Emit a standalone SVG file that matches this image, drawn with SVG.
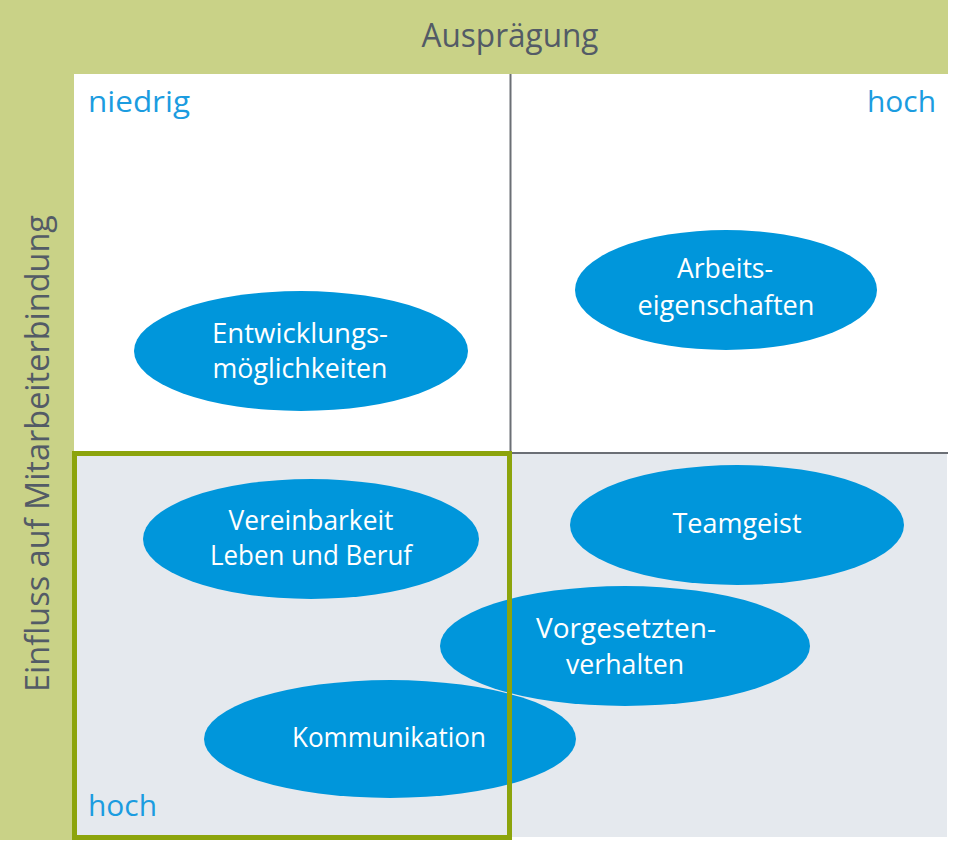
<svg xmlns="http://www.w3.org/2000/svg" width="960" height="850" viewBox="0 0 960 850">
<style>
.band{fill:#c9d287}
.ell{fill:#0096db}
.lbl{font-family:"Open Sans","Liberation Sans",sans-serif;font-size:27px;fill:#ffffff;text-anchor:middle}
.axis{font-family:"Open Sans","Liberation Sans",sans-serif;font-size:32px;fill:#535b66}
.tick{font-family:"Open Sans","Liberation Sans",sans-serif;font-size:29px;fill:#1b9ce0}
.div{stroke:#6b6f75;stroke-width:2;fill:none}
</style>
<rect width="960" height="850" fill="#ffffff"/>
<g id="frame">
<rect class="band" x="0" y="0" width="948" height="74"/>
<rect class="band" x="0" y="0" width="74" height="840"/>
<rect x="74" y="74" width="874" height="379" fill="#ffffff"/>
<rect x="74" y="453" width="873" height="384" fill="#e5e9ee"/>
<line class="div" x1="510.5" y1="74" x2="510.5" y2="453"/>
<line class="div" x1="510" y1="453" x2="948" y2="453"/>
</g>
<g id="axis-x"><text class="axis" x="510" y="47" text-anchor="middle" textLength="177" lengthAdjust="spacingAndGlyphs">Ausprägung</text></g>
<g id="axis-y"><text class="axis" transform="translate(49,453.5) rotate(-90)" x="0" y="0" text-anchor="middle" textLength="477" lengthAdjust="spacingAndGlyphs">Einfluss auf Mitarbeiterbindung</text></g>
<g id="tick-niedrig"><text class="tick" x="88" y="112" textLength="102" lengthAdjust="spacingAndGlyphs">niedrig</text></g>
<g id="tick-hoch-x"><text class="tick" x="867" y="112" textLength="69" lengthAdjust="spacingAndGlyphs">hoch</text></g>
<g id="tick-hoch-y"><text class="tick" x="88" y="816" textLength="69" lengthAdjust="spacingAndGlyphs">hoch</text></g>
<g id="n-entwicklung">
<ellipse class="ell" cx="301" cy="351" rx="167" ry="60"/>
<text class="lbl" x="300" y="343" textLength="176" lengthAdjust="spacingAndGlyphs">Entwicklungs-</text>
<text class="lbl" x="300" y="378" textLength="175" lengthAdjust="spacingAndGlyphs">möglichkeiten</text>
</g>
<g id="n-arbeit">
<ellipse class="ell" cx="726" cy="290" rx="151" ry="60"/>
<text class="lbl" x="725" y="278" textLength="96" lengthAdjust="spacingAndGlyphs">Arbeits-</text>
<text class="lbl" x="726" y="315" textLength="177" lengthAdjust="spacingAndGlyphs">eigenschaften</text>
</g>
<g id="n-vereinbarkeit">
<ellipse class="ell" cx="311" cy="539" rx="168" ry="60"/>
<text class="lbl" x="311" y="530" textLength="165" lengthAdjust="spacingAndGlyphs">Vereinbarkeit</text>
<text class="lbl" x="311" y="565" textLength="202" lengthAdjust="spacingAndGlyphs">Leben und Beruf</text>
</g>
<g id="n-teamgeist">
<ellipse class="ell" cx="737" cy="525" rx="167" ry="60"/>
<text class="lbl" x="737" y="533" textLength="129" lengthAdjust="spacingAndGlyphs">Teamgeist</text>
</g>
<g id="n-vorgesetzten">
<ellipse class="ell" cx="625" cy="646" rx="185" ry="60"/>
<text class="lbl" x="626" y="638" font-size="26" textLength="180" lengthAdjust="spacingAndGlyphs">Vorgesetzten-</text>
<text class="lbl" x="625" y="674" font-size="26" textLength="118" lengthAdjust="spacingAndGlyphs">verhalten</text>
</g>
<g id="n-kommunikation">
<ellipse class="ell" cx="390" cy="739" rx="186" ry="59"/>
<text class="lbl" x="389" y="747" textLength="194" lengthAdjust="spacingAndGlyphs">Kommunikation</text>
</g>
<g id="highlight">
<rect x="74.5" y="453.5" width="435" height="384" fill="none" stroke="#8ca40c" stroke-width="5"/>
</g>
<g id="connectors"/>
</svg>
